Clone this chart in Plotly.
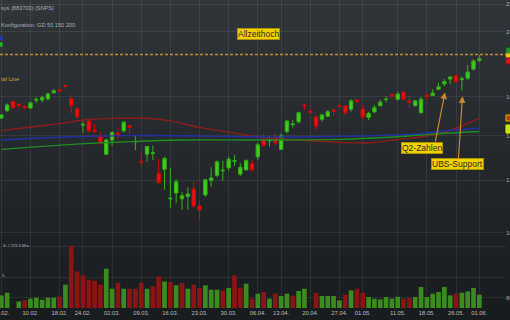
import numpy as np
import pandas as pd
import plotly.graph_objects as go

# ---------------- data ----------------
holidays = ["2020-02-17", "2020-04-10", "2020-05-25"]
dates = [d.strftime("%Y-%m-%d") for d in pd.bdate_range("2020-02-03", "2020-06-01")
         if d.strftime("%Y-%m-%d") not in holidays]

open_ = [148.6, 152.4, 157.3, 155.8, 154.7, 153.9, 158.1, 158.2, 158.8, 162.1,
         163.9, 166.3, 158.8, 153.3, 145.1, 147.1, 142.4, 139.4, 131.2, 137.8,
         141.1, 142.2, 144.8, 136.9, 127.9, 131.2, 131.6, 122.8, 124.6, 112.5,
         114.8, 112.5, 113.4, 116.3, 109.7, 114.0, 119.8, 122.0, 123.9, 125.2,
         128.0, 122.5, 124.3, 127.1, 130.0, 138.0, 137.3, 139.1, 133.4, 141.9,
         145.3, 146.7, 155.5, 152.1, 149.0, 148.0, 149.6, 152.8, 155.1, 154.9,
         153.2, 158.2, 153.2, 149.0, 151.9, 155.1, 158.4, 161.0, 158.6, 162.5,
         157.6, 155.1, 151.4, 160.7, 160.6, 164.1, 167.2, 170.0, 172.0, 169.7,
         170.6, 176.0, 181.2]
high = [150.7, 156.3, 157.7, 156.6, 155.5, 157.3, 159.7, 160.5, 162.3, 164.3,
        164.1, 167.2, 161.0, 154.4, 146.9, 147.6, 145.6, 141.4, 138.3, 141.9,
        144.1, 147.1, 145.1, 139.7, 132.3, 135.0, 135.2, 129.0, 130.1, 125.2,
        120.3, 115.3, 117.1, 119.4, 112.1, 120.5, 125.4, 128.4, 128.3, 130.1,
        130.9, 127.1, 128.9, 128.6, 136.6, 140.6, 139.7, 140.9, 140.9, 147.6,
        147.6, 151.9, 156.0, 153.2, 150.2, 151.0, 152.8, 153.7, 155.5, 155.5,
        158.6, 158.6, 155.5, 151.9, 155.5, 158.2, 160.1, 162.0, 162.8, 162.8,
        161.0, 158.2, 159.8, 162.0, 164.1, 167.7, 170.0, 172.0, 172.6, 171.5,
        178.5, 182.0, 184.8]
low = [148.1, 151.7, 153.6, 153.9, 153.1, 153.4, 156.6, 156.8, 157.9, 161.9,
       162.9, 164.7, 151.2, 148.1, 141.2, 141.4, 141.2, 135.5, 130.9, 135.0,
       137.8, 141.4, 141.0, 133.1, 125.6, 127.9, 128.6, 118.6, 116.0, 109.0,
       110.8, 108.3, 108.3, 109.1, 104.6, 113.3, 117.3, 121.1, 119.7, 124.0,
       126.0, 121.7, 123.9, 123.6, 128.6, 135.0, 134.7, 135.0, 133.1, 140.9,
       143.9, 145.9, 152.8, 151.0, 143.0, 146.7, 149.0, 149.6, 153.7, 150.2,
       151.9, 156.4, 148.0, 147.6, 151.0, 154.6, 157.0, 158.6, 157.9, 158.2,
       153.7, 154.6, 151.0, 158.2, 160.5, 163.7, 165.9, 167.2, 168.0, 163.4,
       169.5, 175.0, 180.2]
close = [150.2, 155.5, 154.0, 155.2, 154.1, 156.6, 158.3, 159.5, 161.5, 163.3,
         163.2, 165.7, 155.1, 149.3, 145.4, 142.2, 142.0, 136.7, 137.8, 141.4,
         140.5, 146.5, 143.9, 137.1, 127.7, 134.7, 131.8, 119.0, 129.3, 112.7,
         119.3, 113.7, 114.4, 109.7, 108.3, 120.1, 120.9, 127.8, 124.1, 128.9,
         128.3, 125.4, 128.3, 124.3, 135.5, 135.2, 137.8, 136.4, 139.7, 147.1,
         145.6, 151.4, 155.1, 151.7, 144.6, 150.2, 151.9, 152.3, 154.8, 151.4,
         157.7, 157.5, 149.3, 151.0, 154.0, 157.0, 158.6, 160.4, 161.5, 158.6,
         157.0, 157.7, 158.6, 160.2, 162.0, 165.5, 168.6, 171.2, 168.6, 170.2,
         174.2, 181.0, 182.4]
volume_mio = [2.03, 2.47, 0, 1.06, 1.23, 1.5, 1.66, 1.34, 1.66, 1.66,
              1.87, 3.76, 10.0, 5.9, 5.26, 4.56, 4.4, 3.76, 6.34, 3.11,
              4.08, 3.11, 3.11, 3.11, 4.08, 3.11, 3.48, 5.1, 4.29, 4.19,
              3.65, 4.03, 3.11, 3.76, 3.23, 3.65, 2.95, 2.95, 2.79, 3.23,
              5.26, 3.27, 3.92, 1.5, 2.31, 2.58, 1.5, 2.35, 1.94, 2.31,
              1.98, 2.74, 3.11, 0, 2.42, 1.94, 1.94, 1.94, 1.23, 2.15,
              2.84, 3.11, 2.47, 1.77, 1.5, 1.39, 1.77, 1.5, 1.82, 1.5,
              1.66, 1.77, 3.39, 1.77, 2.31, 2.58, 3.39, 2.03, 2.31, 2.47,
              2.68, 3.23, 2.15]

gd50_dates = ["2020-02-03", "2020-02-10", "2020-02-18", "2020-02-25", "2020-03-03",
              "2020-03-10", "2020-03-16", "2020-03-23", "2020-03-31", "2020-04-06",
              "2020-04-13", "2020-04-17", "2020-04-27", "2020-05-04", "2020-05-11",
              "2020-05-15", "2020-05-20", "2020-05-26", "2020-06-01"]
gd50_vals = [142.2, 144.1, 145.8, 147.9, 148.5, 148.5, 147.2, 143.9, 141.2, 139.2,
             138.3, 137.6, 136.7, 136.4, 138.0, 139.2, 140.7, 143.5, 148.5]
gd150_dates = ["2020-02-03", "2020-02-19", "2020-03-05", "2020-03-23", "2020-04-06",
               "2020-04-15", "2020-04-27", "2020-05-05", "2020-05-14", "2020-05-21",
               "2020-06-01"]
gd150_vals = [137.8, 139.2, 139.9, 139.7, 139.2, 139.2, 139.5, 139.9, 140.7, 142.2, 143.5]
gd200_dates = ["2020-02-03", "2020-02-19", "2020-03-05", "2020-03-18", "2020-04-06",
               "2020-04-27", "2020-05-04", "2020-05-13", "2020-05-21", "2020-06-01"]
gd200_vals = [133.4, 135.5, 137.0, 137.8, 137.8, 138.1, 138.6, 139.7, 141.0, 141.9]

all_time_high = 185.0

tick_dates = ["2020-02-03", "2020-02-10", "2020-02-18", "2020-02-24", "2020-03-02",
              "2020-03-09", "2020-03-16", "2020-03-23", "2020-03-30", "2020-04-06",
              "2020-04-13", "2020-04-20", "2020-04-27", "2020-05-01", "2020-05-11",
              "2020-05-18", "2020-05-26", "2020-06-01"]
tick_text = [pd.Timestamp(d).strftime("%d.%m.") for d in tick_dates]
price_ticks = [80, 100, 120, 140, 160, 200, 220]
volume_grid = [5, 10]

# ---------------- layout helpers ----------------
W, H = 510, 320
ML, MR, MT, MB = 0, 5, 0, 12
PW, PH = W - ML - MR, H - MT - MB
FONT = "Liberation Sans, Arial, sans-serif"
GRID = "rgba(255,255,255,0.075)"


def px(xp):
    return xp / PW


def py(yp):
    return 1 - yp / PH


vol_colors = ["#3b8c1e" if i == 0 or close[i] >= close[i - 1] else "#8c1414"
              for i in range(len(close))]

fig = go.Figure()
fig.add_trace(go.Bar(x=dates, y=volume_mio, yaxis="y2", marker_color=vol_colors,
                     marker_line_width=0, hoverinfo="skip", showlegend=False))
fig.add_trace(go.Scatter(x=gd50_dates, y=gd50_vals, mode="lines", line_shape="spline",
                         line=dict(color="#8e1c1c", width=1.4), hoverinfo="skip", showlegend=False))
fig.add_trace(go.Scatter(x=gd150_dates, y=gd150_vals, mode="lines", line_shape="spline",
                         line=dict(color="#2230a8", width=1.4), hoverinfo="skip", showlegend=False))
fig.add_trace(go.Scatter(x=gd200_dates, y=gd200_vals, mode="lines", line_shape="spline",
                         line=dict(color="#1f8f22", width=1.4), hoverinfo="skip", showlegend=False))
fig.add_trace(go.Candlestick(
    x=dates, open=open_, high=high, low=low, close=close, whiskerwidth=0,
    increasing=dict(line=dict(color="#33b217", width=1), fillcolor="#40cf1f"),
    decreasing=dict(line=dict(color="#d20a0a", width=1), fillcolor="#e51313"),
    hoverinfo="skip", showlegend=False))

shapes = []
# vertical gradient background
top_c = np.array([48, 53, 57])
bot_c = np.array([25, 28, 31])
nb = 40
for i in range(nb):
    t = i / (nb - 1)
    c = (top_c + (bot_c - top_c) * t).astype(int)
    y0 = i * H / nb
    y1 = (i + 1) * H / nb + 0.6
    shapes.append(dict(type="rect", xref="paper", yref="paper", x0=px(-2), x1=px(W + 2),
                       y0=py(y1), y1=py(y0), fillcolor=f"rgb({c[0]},{c[1]},{c[2]})",
                       line_width=0, layer="below"))
# all-time-high line
shapes.append(dict(type="line", xref="paper", yref="y", x0=0, x1=px(507),
                   y0=all_time_high, y1=all_time_high,
                   line=dict(color="#c08a30", width=1.5, dash="3px,2px"), layer="above"))
# price tags at the right edge
for (y0, y1, fc, lc) in [(47.7, 53.3, "#1e9a1e", "#106010"), (53.3, 57.5, "#e8d200", "#b09a00"),
                         (58.0, 64.0, "#e01515", "#901010"), (115.0, 121.0, "#b83c12", "#f0b000"),
                         (125.0, 133.0, "#c5e51a", "#e8f000")]:
    shapes.append(dict(type="rect", xref="paper", yref="paper", x0=px(506), x1=px(516),
                       y0=py(y1), y1=py(y0), fillcolor=fc, line=dict(color=lc, width=1)))
# legend markers (cut at left)
shapes.append(dict(type="rect", xref="paper", yref="paper", x0=px(-3), x1=px(2.7),
                   y0=py(40), y1=py(36), fillcolor="#2836b8", line_width=0))
shapes.append(dict(type="rect", xref="paper", yref="paper", x0=px(-3), x1=px(2.7),
                   y0=py(46.7), y1=py(42.3), fillcolor="#23b023", line_width=0))

ann = []


def label(text, xp, yp, size, color, anchor="left"):
    ann.append(dict(text=text, xref="paper", yref="paper", x=px(xp), y=py(yp),
                    xanchor=anchor, yanchor="middle", showarrow=False,
                    font=dict(family=FONT, size=size, color=color)))


label("sys (883703) (SNPS)", -1.5, 8, 5.6, "#aab0b5")
label("Konfiguration: GD 50 150 200", -1.5, 24.5, 5.6, "#aab0b5")
label("tal Line", -1.5, 79, 5.6, "#d9a12a")
label("S. / 723.3 Mio.", 0.5, 245, 4.2, "#aab0b5")
label("5.", 0, 275.5, 4.2, "#aab0b5")


def box(text, xc, yc):
    ann.append(dict(text=text, xref="paper", yref="paper", x=px(xc), y=py(yc),
                    xanchor="center", yanchor="middle", showarrow=False,
                    bgcolor="#f0d200", bordercolor="#a89300", borderwidth=1, borderpad=0,
                    font=dict(family=FONT, size=8.5, color="#2b2b2b")))


box("Allzeithoch", 258.4, 33.6)
box("Q2-Zahlen", 422.2, 147.8)
box("UBS-Support", 457.5, 163.8)

# arrows (tip at event candle, tail at the label)
for (xt, yt, xa, ya) in [(76.1, 162.4, 74.4, 136.3), (79.1, 160.2, 78.4, 128.6)]:
    ann.append(dict(text="", x=xt, y=np.log10(yt), xref="x", yref="y",
                    ax=xa, ay=np.log10(ya), axref="x", ayref="y", showarrow=True,
                    arrowhead=2, arrowsize=1.1, arrowwidth=1.2, arrowcolor="#c98a2a",
                    standoff=0, startstandoff=0))

fig.update_layout(
    template="none",
    width=W, height=H,
    margin=dict(l=ML, r=MR, t=MT, b=MB, pad=0),
    paper_bgcolor="#1b1e21",
    plot_bgcolor="rgba(0,0,0,0)",
    showlegend=False,
    bargap=0.2,
    boxgap=0.18,
    font=dict(family=FONT, color="#b4b8bc"),
    shapes=shapes,
    annotations=ann,
    xaxis=dict(type="category", range=[-0.223, 86.4], tickvals=tick_dates, ticktext=tick_text,
               showgrid=True, gridcolor=GRID, gridwidth=1, ticks="", showline=False,
               zeroline=False, tickfont=dict(size=5.8, color="#b8bcc0", family=FONT),
               rangeslider=dict(visible=False), automargin=False, fixedrange=True),
    yaxis=dict(type="log", range=[np.log10(77.2), np.log10(223.3)], side="right",
               tickvals=price_ticks, ticktext=[str(v) for v in price_ticks],
               showgrid=True, gridcolor=GRID, gridwidth=1, ticks="", showline=False,
               zeroline=False, tickfont=dict(size=6.2, color="#a8acb0", family=FONT),
               automargin=False, fixedrange=True),
    yaxis2=dict(overlaying="y", side="left", range=[0, PH / 6.2], tickvals=volume_grid,
                showticklabels=False, showgrid=True, gridcolor=GRID, gridwidth=1,
                ticks="", zeroline=False, showline=False, automargin=False, fixedrange=True),
)

fig.write_html("out.html", config={"displayModeBar": False},
               post_script="document.body.style.margin='0px';document.body.style.overflow='hidden';")
